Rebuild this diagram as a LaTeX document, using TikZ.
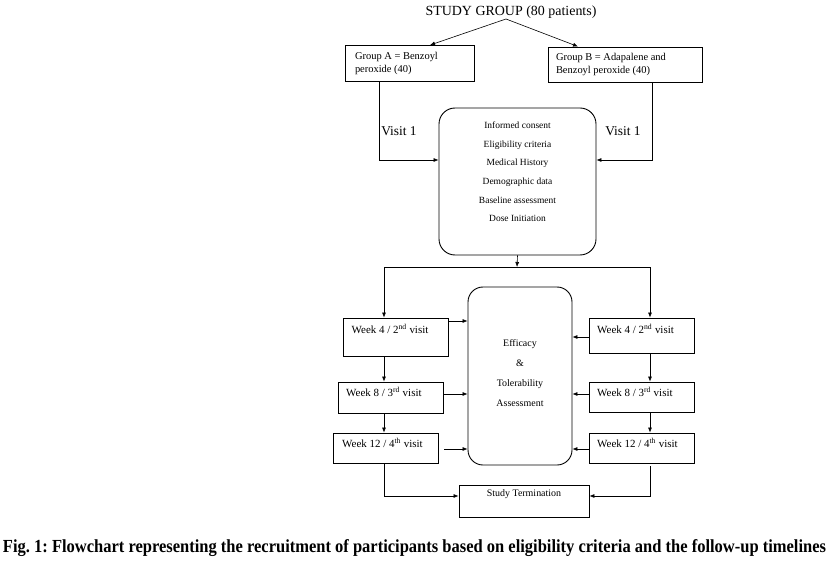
\documentclass[tikz,border=0pt]{standalone}
\usepackage{fontspec}
\setmainfont{Liberation Serif}
\usetikzlibrary{arrows.meta}
\frenchspacing
\tikzset{
  x=1bp, y=-1bp,
  box/.style={draw, line width=0.9bp, inner sep=0pt},
  rbox/.style={draw, line width=0.9bp, rounded corners=16bp, inner sep=0pt},
  conn/.style={line width=0.6bp},
  arr/.style={line width=0.6bp, -{Latex[length=5bp,width=4bp]}},
  wtxt/.style={inner sep=0pt, anchor=west, font=\fontsize{11}{12}\selectfont},
  stxt/.style={inner sep=0pt, font=\fontsize{9.5}{18.7}\selectfont, align=center},
}
\begin{document}
\begin{tikzpicture}
\useasboundingbox (0,0) rectangle (829,563);
% title
\node[inner sep=0pt, font=\fontsize{14}{16}\selectfont] (title) at (511,12) {STUDY GROUP (80 patients)};
\coordinate (ts) at (506,19);
% group boxes
\node[box, minimum width=129bp, minimum height=36bp, text width=109bp, align=flush left,
      font=\fontsize{10.5}{13.5}\selectfont] (gA) at (409.5,63.5) {Group A = Benzoyl\\peroxide (40)};
\node[box, minimum width=154bp, minimum height=35bp, text width=138bp, align=flush left,
      font=\fontsize{10.5}{13.5}\selectfont] (gB) at (625,64.5) {Group B = Adapalene and\\Benzoyl peroxide (40)};
% big rounded box
\node[rbox, minimum width=157bp, minimum height=147bp] (big) at (517.5,181.5) {};
\node[stxt] (bigt) at (517.5,172) {Informed consent\\Eligibility criteria\\Medical History\\Demographic data\\Baseline assessment\\Dose Initiation};
\node[inner sep=0pt, font=\fontsize{13.5}{15}\selectfont] (v1l) at (399,131) {Visit 1};
\node[inner sep=0pt, font=\fontsize{13.5}{15}\selectfont] (v1r) at (623,131) {Visit 1};
% week boxes
\node[box, minimum width=105bp, minimum height=38bp] (lw4) at (395.5,337) {};
\node[wtxt] (lw4t) at (351.5,328.5) {Week 4 / 2\textsuperscript{nd} visit};
\node[box, minimum width=105bp, minimum height=31bp] (lw8) at (390.5,397.5) {};
\node[wtxt] (lw8t) at (346,392) {Week 8 / 3\textsuperscript{rd} visit};
\node[box, minimum width=105bp, minimum height=30bp] (lw12) at (385.5,448) {};
\node[wtxt] (lw12t) at (342,443) {Week 12 / 4\textsuperscript{th} visit};
\node[box, minimum width=105bp, minimum height=35bp] (rw4) at (641.5,335.5) {};
\node[wtxt] (rw4t) at (597,328.5) {Week 4 / 2\textsuperscript{nd} visit};
\node[box, minimum width=105bp, minimum height=30bp] (rw8) at (641.5,397) {};
\node[wtxt] (rw8t) at (597,392) {Week 8 / 3\textsuperscript{rd} visit};
\node[box, minimum width=105bp, minimum height=30bp] (rw12) at (641.5,448) {};
\node[wtxt] (rw12t) at (597,443) {Week 12 / 4\textsuperscript{th} visit};
% efficacy
\node[rbox, rounded corners=15bp, minimum width=104bp, minimum height=178bp] (eff) at (520,376) {};
\node[inner sep=0pt, align=center, font=\fontsize{10}{20}\selectfont] (efft) at (520,373) {Efficacy\\\&\\Tolerability\\Assessment};
% termination
\node[box, minimum width=130bp, minimum height=32bp] (st) at (524,501) {};
\node[inner sep=0pt, font=\fontsize{10}{12}\selectfont] (stt) at (524,494) {Study Termination};
% caption
\node[inner sep=0pt, anchor=base] (cap) at (414.5,552) {\resizebox{823bp}{\height}{\fontsize{18.5}{18.5}\selectfont\bfseries Fig. 1: Flowchart representing the recruitment of participants based on eligibility criteria and the follow-up timelines}};
% helper coordinates
\coordinate (aL) at (379,160);
\coordinate (aR) at (652,160);
\coordinate (hM) at (517,267);
\coordinate (hL) at (384,267);
\coordinate (hR) at (650,267);
\coordinate (y4L) at (0,321);
\coordinate (y4R) at (0,337);
\coordinate (y8) at (0,394);
\coordinate (y12) at (0,449);
\coordinate (x12L) at (444,0);
\coordinate (yst) at (0,496);
% connectors
\draw[arr] (ts) -- (gA.north -| 430,0);
\draw[arr] (ts) -- (gB.north -| 578,0);
\draw[arr] (gA.south -| aL) |- (big.west |- aL);
\draw[arr] (gB.south -| aR) |- (big.east |- aR);
\draw[arr] (big.south) -- (hM);
\draw[conn] (hL) -- (hR);
\draw[arr] (hL) -- (lw4.north -| hL);
\draw[arr] (hR) -- (rw4.north -| hR);
\draw[arr] (lw4.south -| hL) -- (lw8.north -| hL);
\draw[arr] (lw8.south -| hL) -- (lw12.north -| hL);
\draw[arr] (rw4.south -| hR) -- (rw8.north -| hR);
\draw[arr] (rw8.south -| hR) -- (rw12.north -| hR);
\draw[arr] (lw4.east |- y4L) -- (eff.west |- y4L);
\draw[arr] (lw8.east |- y8) -- (eff.west |- y8);
\draw[arr] (x12L |- y12) -- (eff.west |- y12);
\draw[arr] (rw4.west |- y4R) -- (eff.east |- y4R);
\draw[arr] (rw8.west |- y8) -- (eff.east |- y8);
\draw[arr] (rw12.west |- y12) -- (eff.east |- y12);
\draw[arr] (lw12.south -| hL) |- (st.west |- yst);
\draw[arr] ([yshift=-3bp]rw12.south -| hR) |- (st.east |- yst);
\end{tikzpicture}
\end{document}
